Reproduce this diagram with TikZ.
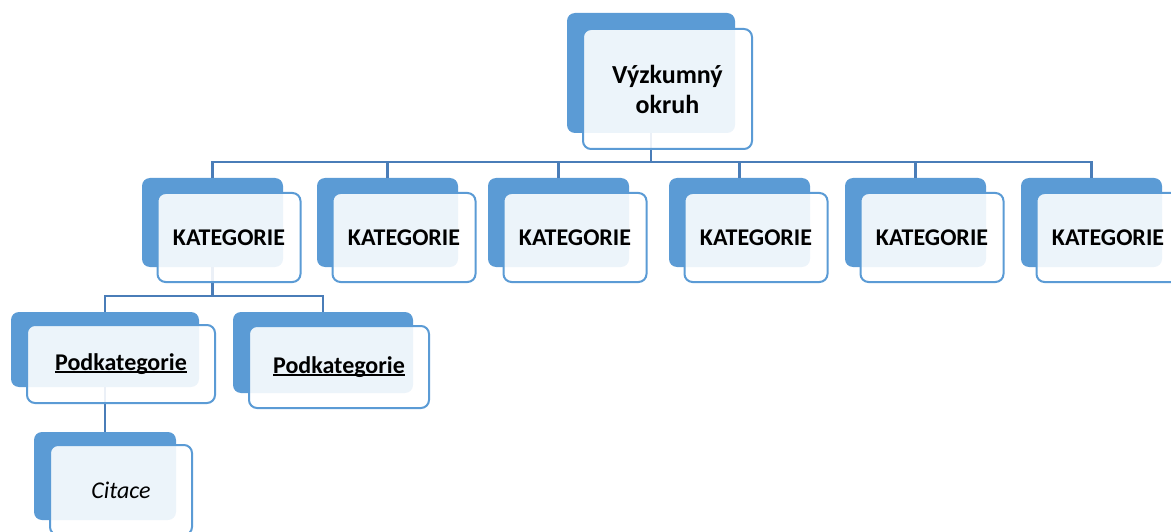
\documentclass[tikz,border=0pt]{standalone}
\usepackage{fontspec}
\setmainfont{Carlito}
\usetikzlibrary{positioning}

\definecolor{smblue}{HTML}{5B9BD5}
\definecolor{connblue}{HTML}{4A7DB8}

% underline drawn close to the baseline
\newcommand{\podline}[1]{\setbox0\hbox{#1}\rlap{\rule[-2.6pt]{\wd0}{1.5pt}}\box0}

\tikzset{
  backbox/.style={fill=smblue,rounded corners=8pt,inner sep=0pt},
  frontbox/.style={draw=smblue,line width=2pt,fill=white,fill opacity=0.89,text opacity=1,
    rounded corners=8pt,inner sep=0pt,align=center,font=\bfseries\fontsize{24}{29}\selectfont},
  conn/.style={draw=connblue,line width=2.4pt}
}

\begin{document}
\begin{tikzpicture}[x=1pt,y=-1pt]
\useasboundingbox (0,0) rectangle (1171,532);

% blue boxes at the back
\node[backbox,minimum width=168,minimum height=120] (vyzB) at (651,73) {};
\foreach \x [count=\i] in {142,317,488,669,845,1021}
  \node[backbox,minimum width=141,minimum height=89] (kat\i B) at (\x+70.5,222.5) {};
\node[backbox,minimum width=188,minimum height=75] (pod1B) at (105,349.5) {};
\node[backbox,minimum width=180,minimum height=81] (pod2B) at (323,352.5) {};
\node[backbox,minimum width=142,minimum height=88] (citB) at (105,476) {};

% connectors
\coordinate (bus) at (0,162);
\coordinate (subbus) at (0,296);
\foreach \i in {1,...,6}
  \draw[conn] (vyzB.south) -- (vyzB.south |- bus) -| (kat\i B.north);
\draw[conn] (kat1B.south) -- (kat1B.south |- subbus) -| (pod1B.north);
\draw[conn] (kat1B.south) -- (kat1B.south |- subbus) -| (pod2B.north);
\draw[conn] (pod1B.south) -- (citB.north);

% boxes with the texts
\node[frontbox,minimum width=169,minimum height=120,font=\bfseries\fontsize{26}{30}\selectfont] (vyz) at (667.5,89) {Výzkumný\\okruh};
\foreach \x [count=\i] in {142,317,488,669,845,1021}
  \node[frontbox,minimum width=143,minimum height=89] (kat\i) at (\x+87,237.5) {KATEGORIE};
\node[frontbox,minimum width=188,minimum height=78] (pod1) at (121,364) {\podline{Podkategorie}};
\node[frontbox,minimum width=180,minimum height=82] (pod2) at (339,367) {\podline{Podkategorie}};
\node[frontbox,minimum width=142,minimum height=90,font=\itshape\fontsize{24}{29}\selectfont] (cit) at (121,490) {Citace};
\end{tikzpicture}
\end{document}
